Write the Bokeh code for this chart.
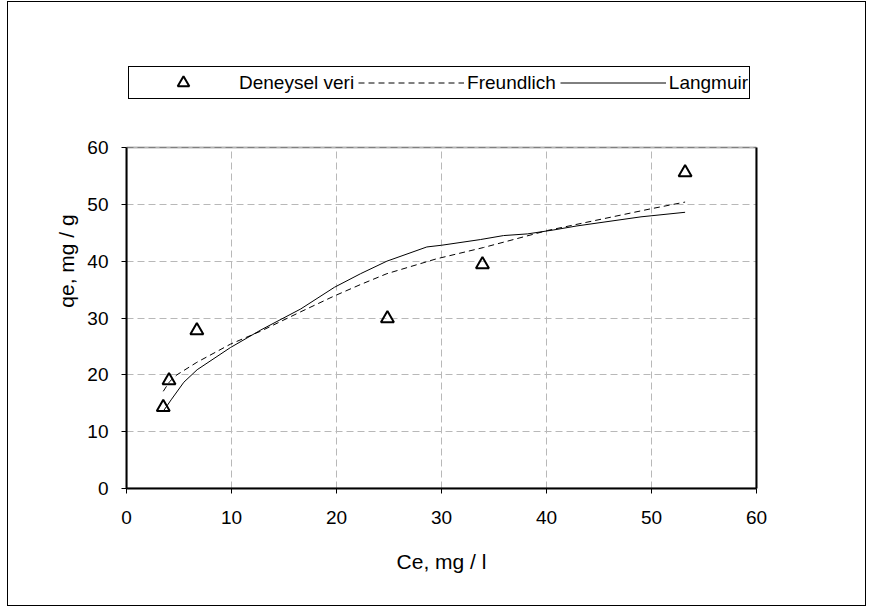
from bokeh.plotting import figure
from bokeh.models import (Legend, LegendItem, FixedTicker, Range1d, InlineStyleSheet,
                          BoxAnnotation, LinearAxis)
from bokeh.embed import file_html
from bokeh.resources import INLINE

# ---- data ----
ce_exp = [3.5, 4.05, 6.7, 24.85, 33.9, 53.2]
qe_exp = [14.3, 19.0, 27.8, 29.9, 39.4, 55.6]

ce_freundlich = [3.5, 4.1, 4.8, 6.7, 9.9, 12.8, 16.6, 19.7, 22.3, 24.8, 29.5, 34.0, 40.1, 49.9, 53.2]
qe_freundlich = [17.1, 18.8, 20.0, 22.2, 25.4, 27.7, 31.1, 33.8, 35.9, 37.8, 40.4, 42.4, 45.4, 49.2, 50.4]

ce_langmuir = [3.5, 4.25, 5.46, 6.73, 9.9, 12.8, 16.6, 19.8, 22.3, 24.8, 28.6, 30.0, 33.7, 35.9, 38.2, 40.7, 42.9, 49.0, 53.2]
qe_langmuir = [13.6, 15.6, 18.7, 20.9, 24.8, 27.9, 31.6, 35.4, 37.8, 40.0, 42.5, 42.8, 43.8, 44.5, 44.8, 45.5, 46.2, 47.8, 48.6]

x_ticks = [0, 10, 20, 30, 40, 50, 60]
y_ticks = [0, 10, 20, 30, 40, 50, 60]

x_title = "Ce, mg / l"
y_title = "qe, mg / g"
legend_labels = ["Deneysel veri", "Freundlich", "Langmuir"]

FONT = "Liberation Sans"

# ---- layout constants (pixels) ----
FRAME_LEFT, FRAME_RIGHT, FRAME_TOP, FRAME_BOTTOM = 126, 756, 33, 488
PLOT_TOP = 147
W, H = 870, 610
x_lo, x_hi = x_ticks[0], x_ticks[-1]
y_lo, y_hi = y_ticks[0], y_ticks[-1]
# the frame extends above the plot area so the legend can sit inside it
y_frame_top = y_hi + (y_hi - y_lo) * (PLOT_TOP - FRAME_TOP) / (FRAME_BOTTOM - PLOT_TOP)

p = figure(width=W, height=H, output_backend="svg", toolbar_location=None,
           x_range=Range1d(x_lo, x_hi), y_range=Range1d(y_lo, y_frame_top),
           min_border_left=FRAME_LEFT, min_border_right=W - FRAME_RIGHT,
           min_border_top=FRAME_TOP, min_border_bottom=H - FRAME_BOTTOM)

# chart-area border (drawn by CSS over the canvas)
p.stylesheets = [InlineStyleSheet(css=(
    ":host::after { content: ''; position: absolute; left: 7px; top: 1px; "
    "width: 859px; height: 605px; border: 1px solid black; "
    "box-sizing: border-box; pointer-events: none; z-index: 10; }"))]

p.background_fill_color = "white"
p.border_fill_color = "white"
p.outline_line_color = None

for ax, ticks, title in ((p.xaxis[0], x_ticks, x_title), (p.yaxis[0], y_ticks, y_title)):
    ax.ticker = FixedTicker(ticks=ticks)
    ax.bounds = (ticks[0], ticks[-1])
    ax.minor_tick_line_color = None
    ax.major_tick_in = 0
    ax.major_tick_out = 5
    ax.major_tick_line_color = "black"
    ax.major_tick_line_width = 1
    ax.axis_line_color = "black"
    ax.axis_line_width = 2
    ax.major_label_text_font = FONT
    ax.major_label_text_font_size = "19px"
    ax.major_label_text_color = "black"
    ax.axis_label = title
    ax.axis_label_text_font = FONT
    ax.axis_label_text_font_size = "21px"
    ax.axis_label_text_font_style = "normal"
    ax.axis_label_text_color = "black"

p.xaxis.major_label_standoff = 17
p.xaxis.axis_label_standoff = 23
p.yaxis.major_label_standoff = 13
p.yaxis.axis_label_standoff = 6

# right edge of the plot area
p.add_layout(LinearAxis(bounds=(y_lo, y_hi), ticker=FixedTicker(ticks=[]),
                        axis_line_color="black", axis_line_width=2,
                        major_tick_line_color=None, minor_tick_line_color=None), "right")

# grid: horizontal lines from the grid model, vertical lines limited to the plot area
p.xgrid.visible = False
p.ygrid[0].ticker = FixedTicker(ticks=y_ticks)
p.ygrid[0].grid_line_color = "#b8b8b8"
p.ygrid[0].grid_line_width = 1
p.ygrid[0].grid_line_dash = "7 4"
p.segment(x0=x_ticks, y0=[y_lo] * len(x_ticks), x1=x_ticks, y1=[y_hi] * len(x_ticks),
          line_color="#b8b8b8", line_width=1, line_dash="7 4")

# plot-area border (top edge inside the frame)
p.add_layout(BoxAnnotation(left=x_lo, right=x_hi, bottom=y_lo, top=y_hi,
                           fill_color=None, line_color="black", line_width=2))

r_f = p.line(ce_freundlich, qe_freundlich, line_color="black", line_width=1, line_dash="6 4")
r_l = p.line(ce_langmuir, qe_langmuir, line_color="black", line_width=1)
r_s = p.scatter(ce_exp, qe_exp, marker="triangle", size=13, fill_color=None,
                line_color="black", line_width=2)

LEG_LEFT, LEG_BOTTOM = 128, 99
legend = Legend(items=[LegendItem(label=legend_labels[0], renderers=[r_s]),
                       LegendItem(label=legend_labels[1], renderers=[r_f]),
                       LegendItem(label=legend_labels[2], renderers=[r_l])],
                location=(LEG_LEFT - FRAME_LEFT, FRAME_BOTTOM - LEG_BOTTOM),
                orientation="horizontal",
                glyph_width=106, glyph_height=29, label_standoff=3, spacing=4,
                padding=1, margin=0,
                label_text_font=FONT, label_text_font_size="19px",
                label_text_color="black",
                border_line_color="black", border_line_width=1, border_line_alpha=1.0,
                background_fill_color="white", background_fill_alpha=1.0)
p.add_layout(legend, "center")

open("out.html", "w").write(file_html(p, INLINE))
